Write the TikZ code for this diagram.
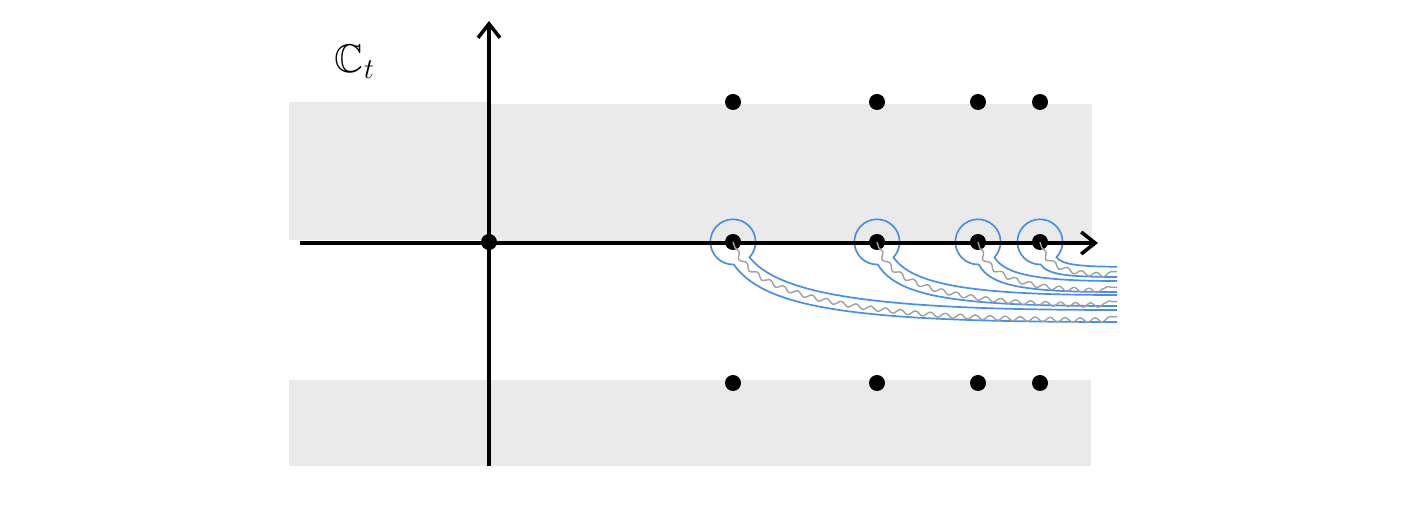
\documentclass[tikz,border=0pt]{standalone}
\usepackage{amssymb}
\usetikzlibrary{arrows.meta,decorations.pathmorphing}
\definecolor{cutblue}{RGB}{74,144,226}
\definecolor{bandgray}{RGB}{234,234,234}
\definecolor{wavegray}{RGB}{160,160,160}
\begin{document}
\begin{tikzpicture}[x=0.5pt,y=-0.5pt,
  axis/.style={line width=1.75pt,-{Straight Barb[length=7pt,width=11pt]}},
  pole/.style={circle,fill=black,inner sep=0pt,minimum size=8pt},
  contour/.style={cutblue,line width=0.85pt},
  cutline/.style={wavegray,line width=0.7pt,decorate,decoration={snake,segment length=7.5pt,amplitude=1.1pt,pre length=3pt}},
  band/.style={fill=bandgray}]
\useasboundingbox (0,0) rectangle (1404,528);
\fill[band] (289,102) rectangle (489,240);
\fill[band] (489,104) rectangle (1092,242);
\fill[band] (289,380) rectangle (1091,466);

\node (lab) at (355,62) {\fontsize{20}{24}\selectfont$\mathbb{C}_t$};

\foreach \i/\xo/\yi/\yw/\yo in {1/733/310/316.7/322, 2/877/295/301.7/306, 3/978/281/287.3/292, 4/1040/266.7/271.7/277}{
  \pgfmathsetmacro\ax{\xo+16.5}
  \def\ay{257.3}
  \pgfmathsetmacro\bx{\xo+0.8}
  \def\by{264.5}
  \pgfmathsetmacro\ia{\ax+0.085*(1117-\ax)}
  \pgfmathsetmacro\ib{\ay+0.75*(\yi-\ay)}
  \pgfmathsetmacro\ic{\ax+0.37*(1117-\ax)}
  \pgfmathsetmacro\oa{\bx+0.084*(1117-\bx)}
  \pgfmathsetmacro\ob{\by+0.8*(\yo-\by)}
  \pgfmathsetmacro\oc{\bx+0.34*(1117-\bx)}
  \coordinate (ci\i) at (1117,\yi);
  \coordinate (co\i) at (1117,\yo);
  \draw[contour] (ci\i) .. controls (\ic,\yi) and (\ia,\ib) .. (\ax,\ay)
     arc[start angle=43,end angle=-272,radius=22.6]
     .. controls (\oa,\ob) and (\oc,\yo) .. (co\i);
}

\coordinate (xs) at (300,243);
\coordinate (xe) at (1098,243);
\coordinate (ys) at (489,466);
\coordinate (ye) at (489,21);
\draw[axis] (xs) -- (xe);
\draw[axis] (ys) -- (ye);

\node[pole] (o) at (489,242) {};
\foreach \i/\xo/\yw in {1/733/316.7, 2/877/301.7, 3/978/287.3, 4/1040/271.7}{
  \node[pole] (u\i) at (\xo,102) {};
  \node[pole] (r\i) at (\xo,242) {};
  \node[pole] (l\i) at (\xo,383) {};
  \pgfmathsetmacro\wa{\xo+2+0.034*(1115-\xo)}
  \pgfmathsetmacro\wb{244+0.71*(\yw-244)}
  \pgfmathsetmacro\wc{\xo+2+0.34*(1115-\xo)}
  \coordinate (cw\i) at (1117,\yw);
  \draw[cutline] (r\i.center) .. controls (\wa,\wb) and (\wc,\yw) .. (cw\i);
}
\end{tikzpicture}
\end{document}
